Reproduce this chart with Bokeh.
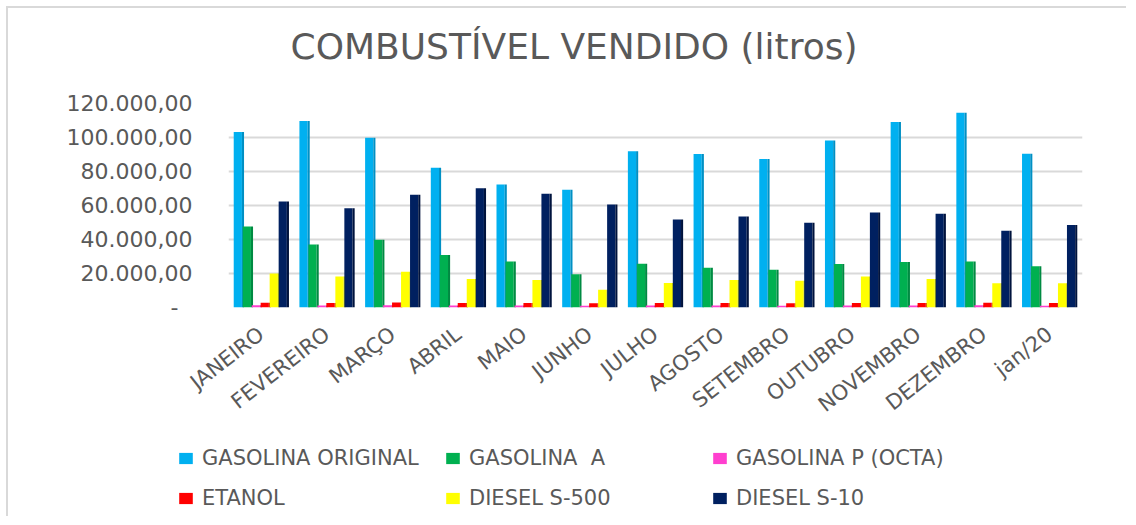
from bokeh.plotting import figure
from bokeh.models import (ColumnDataSource, FactorRange, Range1d, FixedTicker,
                          Legend, LegendItem, Title)
from bokeh.transform import dodge
from bokeh.embed import file_html
from bokeh.resources import INLINE

# ---- data ----
categories = ["JANEIRO", "FEVEREIRO", "MARÇO", "ABRIL", "MAIO", "JUNHO", "JULHO",
              "AGOSTO", "SETEMBRO", "OUTUBRO", "NOVEMBRO", "DEZEMBRO", "jan/20"]
gasolina_original = [103300, 109700, 99900, 82200, 72400, 69300, 91900,
                     90300, 87300, 98300, 109100, 114500, 90500]
gasolina_a = [47600, 37000, 39800, 30900, 27000, 19500, 25800,
              23400, 22200, 25600, 26800, 27000, 24200]
gasolina_p = [1300, 1200, 1300, 1200, 1200, 1100, 1200, 1200, 1100, 1200, 1200, 1300, 1100]
etanol = [2800, 2600, 2900, 2700, 2600, 2500, 2700, 2600, 2500, 2600, 2700, 2800, 2600]
diesel_s500 = [20000, 18300, 21000, 16700, 16200, 10400, 14400,
               16200, 15700, 18300, 16700, 14200, 14200]
diesel_s10 = [62400, 58400, 66300, 70200, 66900, 60600, 51700,
              53500, 49800, 55900, 55100, 45200, 48600]

series_names = ["GASOLINA ORIGINAL", "GASOLINA  A", "GASOLINA P (OCTA)",
                "ETANOL", "DIESEL S-500", "DIESEL S-10"]
series_keys = ["go", "ga", "gp", "et", "d500", "d10"]
series_values = [gasolina_original, gasolina_a, gasolina_p, etanol, diesel_s500, diesel_s10]
series_colors = ["#00B0F0", "#00B050", "#FF3FCF", "#FF0000", "#FFFF00", "#002060"]
side_colors = ["#0090C4", "#008A42", "#D02AA8", "#CC0000", "#D8D800", "#00133D"]

y_ticks = [0, 20000, 40000, 60000, 80000, 100000, 120000]
y_tick_labels = ["-\u00a0\u00a0", "20.000,00", "40.000,00", "60.000,00",
                 "80.000,00", "100.000,00", "120.000,00"]

data = {"cat": categories}
for k, v in zip(series_keys, series_values):
    data[k] = v
source = ColumnDataSource(data)

FONT = "DejaVu Sans"
GRAY = "#595959"

p = figure(x_range=FactorRange(*categories), y_range=Range1d(0, 120000),
           width=1120, height=432, output_backend="svg", toolbar_location=None,
           min_border_left=220, min_border_right=46, min_border_top=95,
           min_border_bottom=133)
p.styles = {"margin-left": "6px", "margin-top": "6px",
            "border-left": "2px solid #d9d9d9", "border-top": "2px solid #d9d9d9"}

p.title.text = "COMBUSTÍVEL VENDIDO (litros)"
p.title.text_font = FONT
p.title.text_font_size = "36px"
p.title.text_font_style = "normal"
p.title.text_color = GRAY
p.title.align = "left"
p.title.offset = 62
p.title.vertical_align = "top"
p.title.standoff = 10

# blank spacer between the title and the plot area
spacer = Title(text=" ", text_font=FONT, text_font_size="24px", standoff=0)
p.add_layout(spacer, "above")

offsets = [-0.342, -0.205, -0.068, 0.068, 0.205, 0.342]
front_w = 0.125
side_w = 0.032
for key, col, scol, off in zip(series_keys, series_colors, side_colors, offsets):
    p.vbar(x=dodge("cat", off - side_w / 2, range=p.x_range), top=key,
           width=front_w, source=source, fill_color=col, line_color=None)
    p.vbar(x=dodge("cat", off + front_w / 2, range=p.x_range), top=key,
           width=side_w, source=source, fill_color=scol, line_color=None)

# axes
p.yaxis.ticker = FixedTicker(ticks=y_ticks)
p.yaxis.major_label_overrides = {t: l for t, l in zip(y_ticks, y_tick_labels)}
p.yaxis.axis_line_color = None
p.yaxis.major_tick_line_color = None
p.yaxis.minor_tick_line_color = None
p.yaxis.major_label_standoff = 30
p.yaxis.major_label_text_font = FONT
p.yaxis.major_label_text_font_size = "22px"
p.yaxis.major_label_text_color = GRAY

p.xaxis.axis_line_color = None
p.xaxis.major_tick_line_color = None
p.xaxis.major_label_orientation = 0.663
p.xaxis.major_label_standoff = 18
p.xaxis.major_label_text_font = FONT
p.xaxis.major_label_text_font_size = "21px"
p.xaxis.major_label_text_color = GRAY

p.xgrid.grid_line_color = None
p.ygrid.grid_line_color = "#D9D9D9"
p.ygrid.grid_line_width = 2
p.outline_line_color = None

# legend figure (below the chart)
lg = figure(width=1120, height=78, output_backend="svg", toolbar_location=None,
            x_range=Range1d(0, 1), y_range=Range1d(0, 1),
            x_axis_location=None, y_axis_location=None,
            min_border_left=0, min_border_right=0, min_border_top=0, min_border_bottom=0)
lg.styles = {"margin-left": "6px", "border-left": "2px solid #d9d9d9"}
lg.grid.visible = False
lg.outline_line_color = None
items = []
for name, col in zip(series_names, series_colors):
    # swatch-only renderers, their single bar lies outside the visible range
    r = lg.vbar(x=[-10], top=[-10], width=0.1, fill_color=col, line_color=None)
    items.append(LegendItem(label=name, renderers=[r]))

legend = Legend(items=items, location=(169, 6), orientation="horizontal", ncols=3,
                glyph_width=17, glyph_height=14, label_standoff=8, label_width=227,
                label_height=25, spacing=15, padding=0, margin=0,
                border_line_color=None, background_fill_alpha=0,
                label_text_font=FONT, label_text_font_size="21px",
                label_text_color=GRAY)
lg.add_layout(legend, "center")

open("out.html", "w").write(file_html([p, lg], INLINE))
